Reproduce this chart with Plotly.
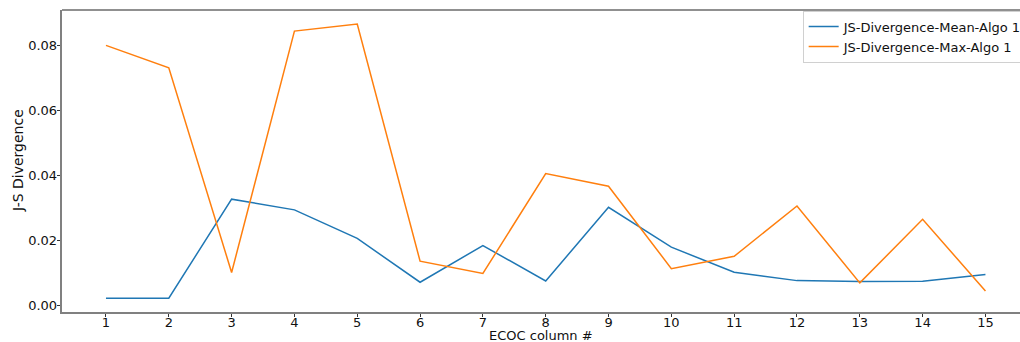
import plotly.graph_objects as go

# ECOC column indices
columns = list(range(1, 16))

# Jensen-Shannon divergence per ECOC column
js_mean = [0.0022, 0.0022, 0.0327, 0.0294, 0.0206, 0.0071, 0.0184, 0.0075,
           0.0302, 0.0179, 0.0102, 0.0076, 0.0073, 0.0074, 0.0095]
js_max = [0.0801, 0.0732, 0.0101, 0.0845, 0.0867, 0.0136, 0.0098, 0.0406,
          0.0367, 0.0113, 0.0151, 0.0306, 0.0069, 0.0265, 0.0044]

y_ticks = [0.00, 0.02, 0.04, 0.06, 0.08]
y_tick_labels = ["0.00", "0.02", "0.04", "0.06", "0.08"]

FONT = "DejaVu Sans"
W, H = 1020, 342
ML, MR, MT, MB = 62, 0, 10, 30

fig = go.Figure()
fig.add_trace(go.Scatter(x=columns, y=js_mean, mode="lines",
                         name="JS-Divergence-Mean-Algo 1",
                         line=dict(color="#1f77b4", width=1.5)))
fig.add_trace(go.Scatter(x=columns, y=js_max, mode="lines",
                         name="JS-Divergence-Max-Algo 1",
                         line=dict(color="#ff7f0e", width=1.5)))

axis_common = dict(showgrid=False, zeroline=False, ticks="outside", ticklen=3.5,
                   tickwidth=1, tickcolor="#333", showline=True, linewidth=1.5,
                   linecolor="#808080", automargin=False,
                   tickfont=dict(family=FONT, size=13, color="#111"))

fig.update_xaxes(range=[0.3, 15.55], tickmode="array", tickvals=columns,
                 ticktext=[str(c) for c in columns], ticklabelstandoff=-6,
                 **axis_common)
fig.update_yaxes(range=[-0.00207, 0.0910], tickmode="array", tickvals=y_ticks,
                 ticktext=y_tick_labels, ticklabelstandoff=-3,
                 **axis_common)

# axis titles
fig.add_annotation(text="ECOC column #", xref="paper", yref="paper",
                   x=0.5, y=-23.5 / (H - MT - MB), xanchor="center", yanchor="middle",
                   showarrow=False, borderpad=0,
                   font=dict(family=FONT, size=13, color="#111"))
fig.add_annotation(text="J-S Divergence", xref="paper", yref="paper",
                   x=-(ML - 18) / (W - ML - MR), y=0.5, xanchor="center",
                   yanchor="middle", textangle=-90, showarrow=False, borderpad=0,
                   font=dict(family=FONT, size=14, color="#111"))

# top frame line of the axes box
fig.add_shape(type="line", xref="paper", yref="paper", x0=0, x1=1, y0=1, y1=1,
              line=dict(color="#222", width=1.2))

fig.update_layout(
    width=W, height=H,
    margin=dict(l=ML, r=MR, t=MT, b=MB, autoexpand=False),
    paper_bgcolor="white", plot_bgcolor="white",
    font=dict(family=FONT, size=13, color="#111"),
    showlegend=True,
    legend=dict(x=1.008, xanchor="right", y=0.998, yanchor="top",
                bgcolor="rgba(255,255,255,0.8)", bordercolor="#d0d0d0",
                borderwidth=1, font=dict(family=FONT, size=13, color="#111"),
                tracegroupgap=0, itemwidth=30),
)

fig.write_html("out.html")
